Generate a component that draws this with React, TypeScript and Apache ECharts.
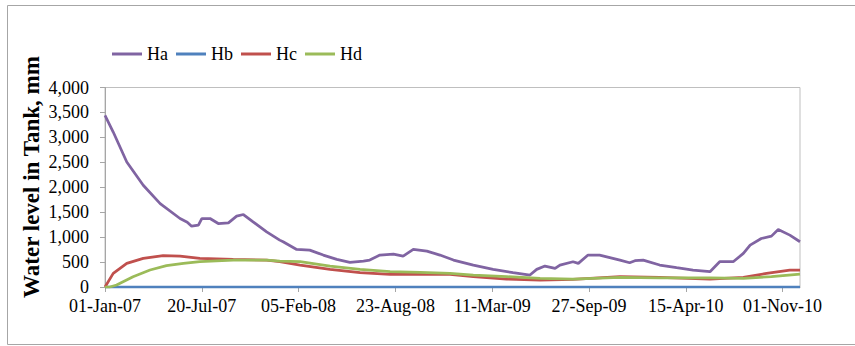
import React, { useEffect, useRef } from "react";
import * as echarts from "echarts";

// Days since 01-Jan-07
const xTickDays = [0, 200, 400, 600, 800, 1000, 1200, 1400];
const xTickLabels = ["01-Jan-07", "20-Jul-07", "05-Feb-08", "23-Aug-08", "11-Mar-09", "27-Sep-09", "15-Apr-10", "01-Nov-10"];
const xMaxDay = 1436;

const yTicks = [0, 500, 1000, 1500, 2000, 2500, 3000, 3500, 4000];

const haDays = [0, 17, 45, 79, 114, 155, 170, 179, 193, 200, 217, 234, 255, 272, 286, 306, 334, 361, 368, 396, 423, 451, 479, 506, 534, 547, 568, 596, 616, 637, 665, 692, 720, 761, 802, 843, 878, 892, 909, 930, 940, 967, 978, 998, 1022, 1043, 1064, 1084, 1095, 1112, 1146, 1181, 1215, 1250, 1270, 1298, 1319, 1333, 1356, 1377, 1391, 1415, 1436];
const haValues = [3440, 3107, 2507, 2040, 1673, 1373, 1300, 1220, 1240, 1373, 1373, 1273, 1287, 1420, 1453, 1307, 1107, 940, 907, 753, 740, 640, 553, 493, 520, 540, 640, 660, 620, 753, 720, 640, 540, 440, 353, 287, 240, 353, 420, 373, 440, 507, 473, 640, 640, 590, 540, 487, 527, 540, 440, 387, 340, 307, 507, 507, 673, 840, 973, 1020, 1153, 1040, 907];

const hbDays = [0, 1436];
const hbValues = [0, 0];

const hcDays = [0, 17, 45, 79, 120, 155, 196, 265, 334, 361, 403, 465, 527, 589, 651, 713, 761, 830, 899, 967, 1064, 1146, 1250, 1319, 1367, 1415, 1436];
const hcValues = [0, 273, 473, 573, 627, 620, 573, 553, 540, 507, 440, 353, 287, 253, 253, 253, 207, 160, 140, 153, 207, 193, 160, 193, 273, 340, 340];

const hdDays = [0, 10, 24, 58, 93, 127, 162, 196, 265, 334, 361, 403, 465, 527, 589, 651, 713, 761, 830, 899, 967, 1064, 1146, 1250, 1319, 1377, 1436];
const hdValues = [0, 0, 40, 207, 340, 427, 473, 507, 540, 540, 520, 507, 420, 353, 307, 293, 273, 240, 207, 173, 160, 193, 185, 185, 173, 207, 260];

const seriesNames = ["Ha", "Hb", "Hc", "Hd"];
const seriesColors = ["#8064A2", "#4F81BD", "#C0504D", "#9BBB59"];

const pairs = (d: number[], v: number[]) => d.map((x, i) => [x, v[i]]);

export default function App() {
  const ref = useRef<HTMLDivElement>(null);
  useEffect(() => {
    if (!ref.current) return;
    const chart = echarts.init(ref.current, undefined, { renderer: "svg" });
    const font = "Liberation Serif";
    const datasets = [
      pairs(haDays, haValues),
      pairs(hbDays, hbValues),
      pairs(hcDays, hcValues),
      pairs(hdDays, hdValues),
    ];
    chart.setOption({
      animation: false,
      backgroundColor: "#ffffff",
      textStyle: { fontFamily: font },
      graphic: [
        {
          type: "rect",
          shape: { x: 7.5, y: 5.5, width: 860, height: 339 },
          style: { fill: "none", stroke: "#a6a6a6", lineWidth: 1 },
          silent: true,
        },
        {
          type: "text",
          x: 31,
          y: 177,
          rotation: Math.PI / 2,
          style: {
            text: "Water level in Tank, mm",
            font: "bold 23px 'Liberation Serif'",
            fill: "#000000",
            align: "center",
            verticalAlign: "middle",
          },
        },
      ],
      legend: {
        left: 107,
        top: 40,
        icon: "rect",
        itemWidth: 30,
        itemHeight: 3,
        itemGap: 8,
        data: seriesNames,
        textStyle: { fontFamily: font, fontSize: 18, color: "#000000" },
      },
      grid: {
        left: 105,
        top: 87.5,
        right: 55,
        bottom: 59,
        show: true,
        borderColor: "#bfbfbf",
        borderWidth: 1,
        containLabel: false,
      },
      xAxis: {
        type: "value",
        min: 0,
        max: xMaxDay,
        interval: 200,
        splitLine: { show: false },
        axisLine: { show: true, lineStyle: { color: "#a6a6a6" } },
        axisTick: { show: true, length: 5, lineStyle: { color: "#a6a6a6" }, customValues: xTickDays },
        axisLabel: {
          customValues: xTickDays,
          margin: 10,
          fontFamily: font,
          fontSize: 18,
          color: "#000000",
          formatter: (v: number) => {
            const i = xTickDays.indexOf(Math.round(v));
            return i >= 0 ? xTickLabels[i] : "";
          },
        },
      },
      yAxis: {
        type: "value",
        min: 0,
        max: 4000,
        interval: 500,
        splitLine: { show: false },
        axisLine: { show: true, lineStyle: { color: "#a6a6a6" } },
        axisTick: { show: true, length: 5, lineStyle: { color: "#a6a6a6" }, customValues: yTicks },
        axisLabel: {
          customValues: yTicks,
          margin: 16,
          fontFamily: font,
          fontSize: 18,
          color: "#000000",
          formatter: (v: number) => v.toLocaleString("en-US"),
        },
      },
      series: seriesNames.map((name, i) => ({
        name,
        type: "line",
        data: datasets[i],
        showSymbol: false,
        symbol: "none",
        smooth: false,
        lineStyle: { color: seriesColors[i], width: 2.75 },
        itemStyle: { color: seriesColors[i] },
      })),
    });
    return () => chart.dispose();
  }, []);
  return (
    <div
      ref={ref}
      style={{ position: "fixed", left: 0, top: 0, width: 855, height: 346, background: "#fff" }}
    />
  );
}
